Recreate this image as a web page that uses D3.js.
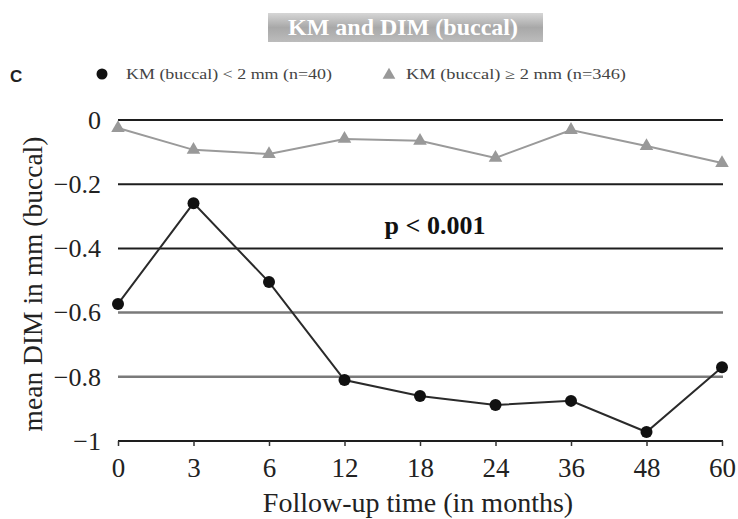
<!DOCTYPE html>
<html><head><meta charset="utf-8">
<script src="https://cdn.jsdelivr.net/npm/d3@7"></script>
<style>body{margin:0;background:#fff} svg text{font-family:'Liberation Serif','Times New Roman',serif}</style>
</head><body>
<svg id="c" width="738" height="519"></svg>
<script>
const months = ["0","3","6","12","18","24","36","48","60"];
const kmLow = [-0.573,-0.259,-0.505,-0.81,-0.86,-0.888,-0.875,-0.972,-0.77];
const kmHigh = [-0.025,-0.093,-0.106,-0.059,-0.065,-0.118,-0.031,-0.081,-0.134];
const yTicks = [0,-0.2,-0.4,-0.6,-0.8,-1];
const yTickLabels = ["0","\u22120.2","\u22120.4","\u22120.6","\u22120.8","\u22121"];
const legendLabels = ["KM (buccal) < 2 mm (n=40)","KM (buccal) \u2265 2 mm (n=346)"];

const svg = d3.select("#c");
const serif = "'Liberation Serif','Times New Roman',serif";
const x = d3.scalePoint().domain(months).range([118,722]);
const y = d3.scaleLinear().domain([-1,0]).range([441,120]);

// title box
const defs = svg.append("defs");
const g = defs.append("linearGradient").attr("id","tg").attr("x1",0).attr("y1",0).attr("x2",0).attr("y2",1);
g.append("stop").attr("offset","0%").attr("stop-color","#d6d6d6");
g.append("stop").attr("offset","50%").attr("stop-color","#a8a8a8");
g.append("stop").attr("offset","100%").attr("stop-color","#bcbcbc");
svg.append("rect").attr("x",268).attr("y",13).attr("width",275).attr("height",29).attr("fill","url(#tg)");
svg.append("text").attr("x",403).attr("y",35).attr("text-anchor","middle")
  .style("font-family",serif).attr("font-weight","bold").attr("font-size",24).attr("fill","#fff")
  .text("KM and DIM (buccal)");

svg.append("text").attr("x",10).attr("y",82).style("font-family","'Liberation Sans',Arial,sans-serif")
  .attr("font-weight","bold").attr("font-size",17).attr("fill","#222").text("C");

// legend
svg.append("circle").attr("cx",102).attr("cy",74).attr("r",5.5).attr("fill","#111");
svg.append("text").attr("x",126).attr("y",79).style("font-family",serif).attr("font-size",14)
  .attr("textLength",206).attr("lengthAdjust","spacingAndGlyphs").attr("fill","#444").text(legendLabels[0]);
svg.append("path").attr("d",d3.symbol(d3.symbolTriangle,70)()).attr("transform","translate(389,75)").attr("fill","#999");
svg.append("text").attr("x",406).attr("y",79).style("font-family",serif).attr("font-size",14)
  .attr("textLength",220).attr("lengthAdjust","spacingAndGlyphs").attr("fill","#444").text(legendLabels[1]);

// gridlines
yTicks.forEach((t,i)=>{
  const grayish = (t===-0.6||t===-0.8);
  svg.append("line").attr("x1",118).attr("x2",723).attr("y1",y(t)).attr("y2",y(t))
    .attr("stroke",grayish?"#7a7a7a":"#1e1e1e").attr("stroke-width",grayish?2.5:2);
});

// y axis labels
const yAxis = d3.axisLeft(y).tickValues(yTicks).tickSize(0).tickPadding(0).tickFormat((d,i)=>yTickLabels[i]);
const ya = svg.append("g").attr("transform","translate(101,0)").call(yAxis).attr("font-family",null);
ya.select(".domain").remove();
ya.selectAll("text").style("font-family",serif).attr("font-size",26).attr("fill","#222").attr("dy","0.32em");

// x axis
const xAxis = d3.axisBottom(x).tickSize(5).tickPadding(12);
const xa = svg.append("g").attr("transform","translate(0,441)").call(xAxis).attr("font-family",null);
xa.select(".domain").remove();
xa.selectAll("line").attr("stroke","#333").attr("stroke-width",1.5);
xa.selectAll("text").style("font-family",serif).attr("font-size",27).attr("fill","#222");

// axis titles
svg.append("text").attr("transform","translate(42,284) rotate(-90)").attr("text-anchor","middle")
  .style("font-family",serif).attr("font-size",27.5).attr("fill","#222").text("mean DIM in mm (buccal)");
svg.append("text").attr("x",418).attr("y",512).attr("text-anchor","middle")
  .style("font-family",serif).attr("font-size",28).attr("fill","#222").text("Follow-up time (in months)");

// p value
svg.append("text").attr("x",435).attr("y",234).attr("text-anchor","middle")
  .style("font-family",serif).attr("font-weight","bold").attr("font-size",26).attr("fill","#111").text("p < 0.001");

// series
const line = d3.line().x((d,i)=>x(months[i])).y(d=>y(d));
svg.append("path").datum(kmHigh).attr("d",line).attr("fill","none").attr("stroke","#9a9a9a").attr("stroke-width",2);
svg.selectAll(".tri").data(kmHigh).enter().append("path")
  .attr("d",d3.symbol(d3.symbolTriangle,80)())
  .attr("transform",(d,i)=>`translate(${x(months[i])},${y(d)})`).attr("fill","#999");
svg.append("path").datum(kmLow).attr("d",line).attr("fill","none").attr("stroke","#2a2a2a").attr("stroke-width",2);
svg.selectAll(".dot").data(kmLow).enter().append("circle")
  .attr("cx",(d,i)=>x(months[i])).attr("cy",d=>y(d)).attr("r",6).attr("fill","#111");
</script>
</body></html>
